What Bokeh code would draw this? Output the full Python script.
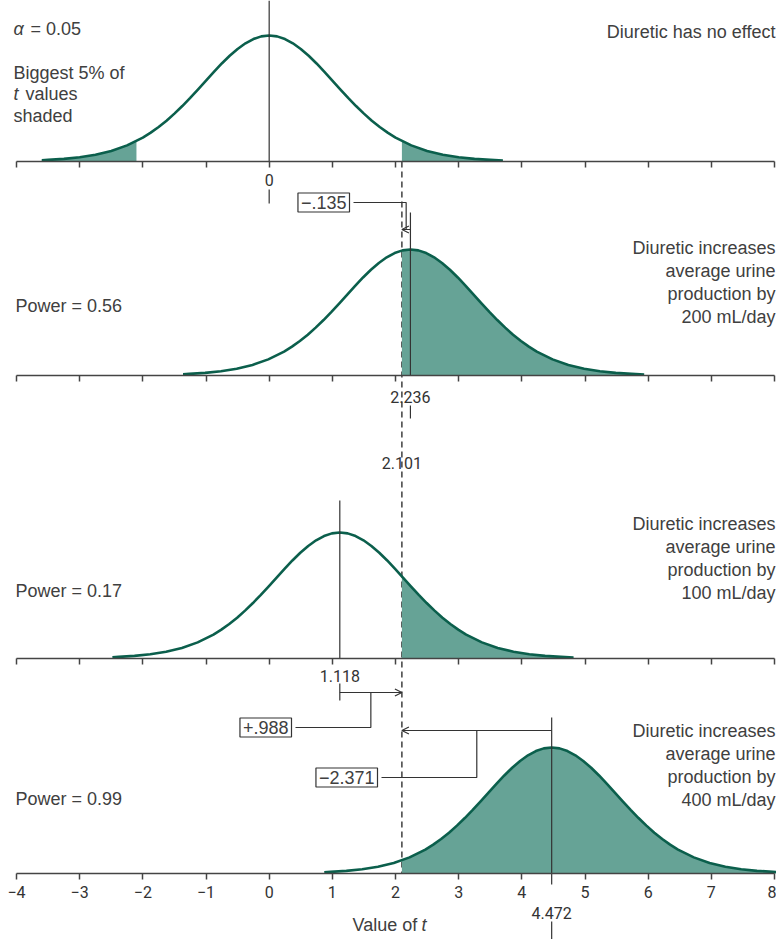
import numpy as np
from bokeh.plotting import figure
from bokeh.models import (Range1d, LinearAxis, FixedTicker, Label, Arrow,
                          OpenHead)
from bokeh.core.properties import value
from bokeh.embed import file_html
from bokeh.resources import INLINE

# ---------------- data ----------------
X_TICKS = [-4, -3, -2, -1, 0, 1, 2, 3, 4, 5, 6, 7, 8]
X_TICK_LABELS = ["−4", "−3", "−2", "−1", "0", "1", "2", "3", "4", "5", "6", "7", "8"]
T_CRIT = 2.101
T_CRIT_LABEL = "2.101"
SHIFTS = [0.0, 2.236, 1.118, 4.472]
SHIFT_LABELS = ["0", "2.236", "1.118", "4.472"]
POWER_LABELS = [None, "Power = 0.56", "Power = 0.17", "Power = 0.99"]
EFFECT_TEXT = [
    ["Diuretic has no effect"],
    ["Diuretic increases", "average urine", "production by", "200 mL/day"],
    ["Diuretic increases", "average urine", "production by", "100 mL/day"],
    ["Diuretic increases", "average urine", "production by", "400 mL/day"],
]
DIFF_PANELS = [1, 2, 3]
DIFF_LABELS = ["−.135", "+.988", "−2.371"]

# shape of each t curve (offset from its centre, height relative to peak)
SHAPE_OFFSET = [-3.6, -3.5, -3.25, -3.0, -2.75, -2.5, -2.25,
                -2.0, -1.875, -1.75, -1.625, -1.5, -1.375, -1.25, -1.125,
                -1.0, -0.875, -0.75, -0.625, -0.5, -0.375, -0.25, -0.125,
                0.0,
                0.125, 0.25, 0.375, 0.5, 0.625, 0.75, 0.875, 1.0,
                1.125, 1.25, 1.375, 1.5, 1.625, 1.75, 1.875, 2.0,
                2.25, 2.5, 2.75, 3.0, 3.25, 3.5, 3.7]
SHAPE_HEIGHT = [0.010, 0.013, 0.021, 0.034, 0.054, 0.084, 0.128,
                0.190, 0.229, 0.274, 0.324, 0.380, 0.440, 0.505, 0.573,
                0.642, 0.711, 0.778, 0.839, 0.893, 0.938, 0.972, 0.993,
                1.000,
                0.993, 0.972, 0.938, 0.893, 0.839, 0.778, 0.711, 0.642,
                0.573, 0.505, 0.440, 0.380, 0.324, 0.274, 0.229, 0.190,
                0.128, 0.084, 0.054, 0.034, 0.021, 0.013, 0.008]

# ---------------- layout ----------------
W, H = 776, 939
PXU = 63.17             # pixels per t unit
X_START = -4 - 16 / PXU
X_END = X_START + W / PXU


def X(px):
    return X_START + px / PXU


def Y(py):
    return H - py


BASE = [Y(161), Y(375), Y(658), Y(873)]
PEAK = 126

LINE = "#0b5f4c"
FILL = "#66a396"
INK = "#333333"
TXT = "#404040"
FONT = "Liberation Sans"
NUMFONT = "Roboto"

p = figure(width=W, height=H, x_range=Range1d(X_START, X_END),
           y_range=Range1d(0, H), x_axis_type=None, y_axis_type=None,
           toolbar_location=None, output_backend="svg", min_border=0)
p.outline_line_color = None
p.background_fill_color = "white"
p.border_fill_color = "white"

# axes, one per panel
overrides = {t: l for t, l in zip(X_TICKS, X_TICK_LABELS)}
for i, b in enumerate(BASE):
    ax = LinearAxis(fixed_location=b, bounds=(X_TICKS[0], X_TICKS[-1]),
                    ticker=FixedTicker(ticks=X_TICKS, minor_ticks=[]),
                    major_label_overrides=overrides)
    ax.axis_line_color = "#444444"
    ax.axis_line_width = 1.5
    ax.major_tick_line_color = "#444444"
    ax.major_tick_line_width = 1.5
    ax.major_tick_in = 0
    ax.major_tick_out = 6
    ax.minor_tick_line_color = None
    ax.major_label_standoff = 6
    ax.major_label_text_font = NUMFONT
    ax.major_label_text_font_size = "16px"
    ax.major_label_text_color = INK if i == 3 else None
    p.add_layout(ax, "below")

# dashed critical-value line
p.segment(x0=[T_CRIT], y0=[BASE[0]], x1=[T_CRIT], y1=[BASE[3]],
          line_color="#222222", line_width=1.3, line_dash="6 4")

off = np.array(SHAPE_OFFSET)
hgt = np.array(SHAPE_HEIGHT)
for k, s in enumerate(SHIFTS):
    base = BASE[k]
    xs = s + off
    ys = base + PEAK * hgt
    regions = [(T_CRIT, None)]
    if k == 0:
        regions.append((None, -T_CRIT))
    for lo, hi in regions:
        m = np.ones_like(xs, dtype=bool)
        if lo is not None:
            m &= xs > lo
        if hi is not None:
            m &= xs < hi
        xr = list(xs[m])
        yr = list(ys[m])
        if lo is not None:
            xr = [lo] + xr
            yr = [float(np.interp(lo, xs, ys))] + yr
        if hi is not None:
            xr = xr + [hi]
            yr = yr + [float(np.interp(hi, xs, ys))]
        p.varea(x=xr, y1=[base] * len(xr), y2=yr, fill_color=FILL)
    p.line(xs, ys, line_color=LINE, line_width=2.6, line_join="round")

# vertical lines at the curve centres
VL_TOP = [0, 212, 500, 717]
VL_BOT = [161, 375, 658, 884]
VL2_TOP = [189, 405, 683, 921]
VL2_BOT = [203, 418, 700, 939]
LABEL_Y = [179, 396, 675, 912]
p.segment(x0=SHIFTS, y0=[Y(v) for v in VL_TOP], x1=SHIFTS,
          y1=[Y(v) for v in VL_BOT], line_color=INK, line_width=1.2)
p.segment(x0=SHIFTS, y0=[Y(v) for v in VL2_TOP], x1=SHIFTS,
          y1=[Y(v) for v in VL2_BOT], line_color=INK, line_width=1.2)
p.text(x=SHIFTS, y=[Y(v) for v in LABEL_Y], text=SHIFT_LABELS,
       text_align="center", text_baseline="middle", text_font=value(NUMFONT),
       text_font_size="16px", text_color=INK)
p.text(x=[T_CRIT], y=[Y(462)], text=[T_CRIT_LABEL], text_align="center",
       text_baseline="middle", text_font=value(NUMFONT), text_font_size="16px",
       text_color=INK)

# difference brackets
ARROW_Y = [229, 692, 730]
STEM_Y = [202, 727, 777]
BOX_RIGHT = [353, 295, 381]
for j, k in enumerate(DIFF_PANELS):
    s = SHIFTS[k]
    xm = (s + T_CRIT) / 2
    ya = Y(ARROW_Y[j])
    yb = Y(STEM_Y[j])
    xb = X(BOX_RIGHT[j])
    p.add_layout(Arrow(x_start=s, y_start=ya, x_end=T_CRIT, y_end=ya,
                       line_color=INK, line_width=1.2,
                       end=OpenHead(size=7, line_color=INK, line_width=1.2)))
    p.line([xm, xm, xb], [ya, yb, yb], line_color=INK, line_width=1.2)
    p.add_layout(Label(x=xb, y=yb, x_offset=-4, text=DIFF_LABELS[j],
                       text_align="right", text_baseline="middle",
                       text_font=FONT, text_font_size="18px", text_color=TXT,
                       background_fill_color="white", border_line_color=INK,
                       border_line_width=1.2, padding=3))

# left texts
p.text(x=[X(13)], y=[Y(38)], text=["α"], text_font=value(FONT),
       text_font_style="italic", text_font_size="18px", text_color=TXT)
p.text(x=[X(30)], y=[Y(38)], text=["= 0.05"], text_font=value(FONT),
       text_font_size="18px", text_color=TXT)
p.text(x=[X(13), X(13)], y=[Y(82), Y(125)], text=["Biggest 5% of", "shaded"],
       text_font=value(FONT), text_font_size="18px", text_color=TXT)
p.text(x=[X(13)], y=[Y(103.5)], text=["t"], text_font=value(FONT),
       text_font_style="italic", text_font_size="18px", text_color=TXT)
p.text(x=[X(25)], y=[Y(103.5)], text=["values"], text_font=value(FONT),
       text_font_size="18px", text_color=TXT)

POWER_Y = [None, 315, 600, 808]
for k in range(4):
    if POWER_LABELS[k]:
        p.text(x=[X(15)], y=[Y(POWER_Y[k])], text=[POWER_LABELS[k]],
               text_font=value(FONT), text_font_size="18px", text_color=TXT)

# right texts
EFFECT_Y0 = [41, 257, 533, 740]
LINE_STEP = 23.3
rx, ry, rt = [], [], []
for k in range(4):
    for n, line in enumerate(EFFECT_TEXT[k]):
        rx.append(X(775))
        ry.append(Y(EFFECT_Y0[k] + n * LINE_STEP))
        rt.append(line)
p.text(x=rx, y=ry, text=rt, text_align="right", text_font=value(FONT),
       text_font_size="18px", text_color=TXT)

# axis title
p.text(x=[X(352)], y=[Y(934)], text=["Value of"], text_font=value(FONT),
       text_font_size="18px", text_color=TXT)
p.text(x=[X(421)], y=[Y(934)], text=["t"], text_font=value(FONT),
       text_font_style="italic", text_font_size="18px", text_color=TXT)

open("out.html", "w").write(file_html(p, INLINE))
